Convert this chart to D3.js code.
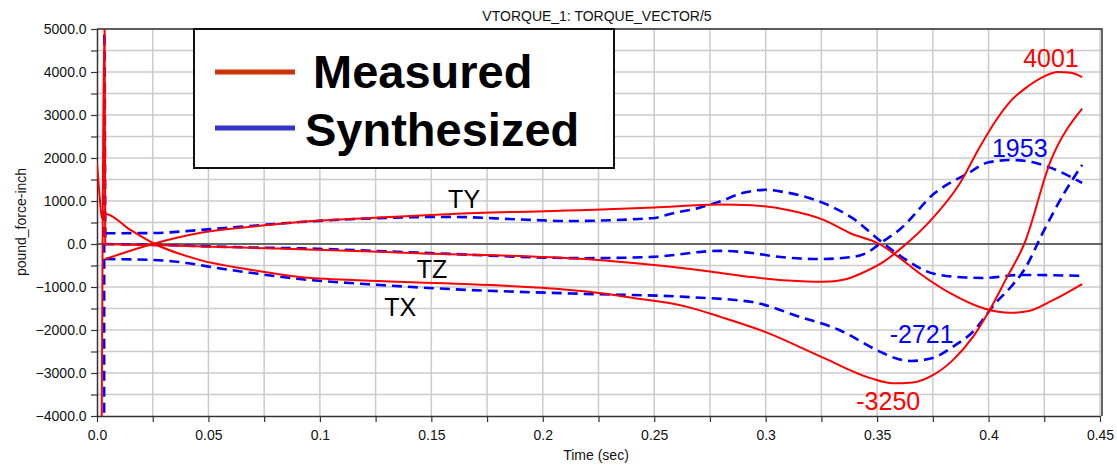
<!DOCTYPE html>
<html>
<head>
<meta charset="utf-8">
<script src="https://cdn.jsdelivr.net/npm/d3@7"></script>
<style>
  body { margin: 0; background: #fff; }
  svg text { font-family: Arial, "Liberation Sans", sans-serif; }
</style>
</head>
<body>
<svg id="chart" width="1117" height="465"></svg>
<script>
// ---- data: [time (s), torque (lbf-in)] ----
const measTX = [[0, 1880], [0.0012, 1100], [0.0022, 600], [0.0037, 700], [0.015, 330], [0.026, 0], [0.046, -370],
  [0.069, -600], [0.091, -770], [0.12, -850], [0.159, -920], [0.2, -1020], [0.219, -1100], [0.24, -1250],
  [0.264, -1450], [0.28, -1700], [0.3, -2050], [0.326, -2650], [0.347, -3120], [0.357, -3240], [0.366, -3220],
  [0.375, -3050], [0.384, -2700], [0.393, -2160], [0.4, -1580], [0.408, -800], [0.416, 0], [0.428, 1950], [0.442, 3150]];
const measTY = [[0.0037, -350], [0.025, 0], [0.046, 255], [0.069, 400], [0.091, 510], [0.12, 600], [0.159, 700],
  [0.219, 790], [0.25, 850], [0.279, 920], [0.294, 900], [0.31, 790], [0.326, 560], [0.338, 250], [0.351, 0],
  [0.358, -240], [0.369, -680], [0.383, -1150], [0.398, -1500], [0.41, -1600], [0.418, -1560], [0.428, -1330], [0.442, -930]];
const measTZ = [[0.0021, -4300], [0.0034, 5200], [0.0037, 0], [0.03, -30], [0.069, -90], [0.091, -120], [0.144, -215],
  [0.219, -350], [0.25, -490], [0.275, -640], [0.294, -770], [0.31, -850], [0.326, -880], [0.336, -820], [0.343, -680],
  [0.353, -410], [0.361, -90], [0.373, 490], [0.387, 1400], [0.396, 2250], [0.403, 2850], [0.41, 3330], [0.418, 3680],
  [0.425, 3900], [0.431, 4001], [0.437, 3980], [0.442, 3880]];

const synTX = [[0.0038, -350], [0.025, -370], [0.04, -440], [0.054, -560], [0.069, -670], [0.091, -815], [0.12, -930],
  [0.159, -1050], [0.219, -1160], [0.264, -1230], [0.294, -1350], [0.315, -1690], [0.333, -2000], [0.35, -2470],
  [0.358, -2650], [0.365, -2721], [0.375, -2650], [0.384, -2390], [0.393, -2040], [0.403, -1380], [0.41, -1000],
  [0.416, -600], [0.425, 330], [0.434, 1190], [0.442, 1840]];
const synTY = [[0.0038, 250], [0.025, 255], [0.046, 325], [0.069, 420], [0.091, 510], [0.159, 630], [0.19, 570],
  [0.211, 535], [0.249, 600], [0.259, 720], [0.27, 840], [0.279, 980], [0.29, 1190], [0.3, 1260], [0.308, 1210],
  [0.326, 950], [0.339, 600], [0.351, 90], [0.361, -300], [0.376, -700], [0.39, -780], [0.398, -790], [0.414, -720], [0.442, -740]];
const synTZ = [[0.0032, -4300], [0.0033, 5300], [0.0038, 0], [0.025, -20], [0.069, -80], [0.091, -100], [0.144, -200],
  [0.219, -330], [0.249, -300], [0.279, -160], [0.294, -210], [0.303, -280], [0.324, -350], [0.339, -300], [0.346, -190],
  [0.351, 0], [0.36, 330], [0.376, 1190], [0.391, 1650], [0.4, 1900], [0.41, 1953], [0.42, 1900], [0.428, 1770], [0.442, 1420]];

const xMajor = [0, 0.05, 0.1, 0.15, 0.2, 0.25, 0.3, 0.35, 0.4, 0.45];
const xLabels = ['0.0', '0.05', '0.1', '0.15', '0.2', '0.25', '0.3', '0.35', '0.4', '0.45'];
const xMinor = d3.range(0, 0.4501, 0.025);
const yMajor = [-4000, -3000, -2000, -1000, 0, 1000, 2000, 3000, 4000, 5000];
const yMinor = d3.range(-4000, 5001, 500);

const legendNames = ['Measured', 'Synthesized'];
const notes = [
  { t: 0.428, v: 4116, text: '4001', color: '#ff0000' },
  { t: 0.414, v: 2023, text: '1953', color: '#0000ff' },
  { t: 0.370, v: -2302, text: '-2721', color: '#0000ff' },
  { t: 0.355, v: -3860, text: '-3250', color: '#ff0000' },
  { t: 0.1647, v: 837, text: 'TY', color: '#000' },
  { t: 0.1503, v: -791, text: 'TZ', color: '#000' },
  { t: 0.136, v: -1674, text: 'TX', color: '#000' }
];

// ---- layout ----
const plotL = 97, plotR = 1100, plotT = 29, plotB = 416;
const svg = d3.select('#chart');

const x = d3.scaleLinear().domain([0, 0.45]).range([plotL, plotR]);
const y = d3.scaleLinear().domain([-4000, 5000]).range([plotB, plotT]);

svg.append('rect').attr('x', plotL).attr('y', plotT)
  .attr('width', plotR + 2 - plotL).attr('height', plotB - plotT).attr('fill', '#fff');

// grid
const grid = svg.append('g').attr('stroke', '#cbcbcb').attr('stroke-width', 1.5);
grid.selectAll('.vg').data(xMinor.slice(1)).enter().append('line')
  .attr('x1', d => x(d)).attr('x2', d => x(d)).attr('y1', plotT).attr('y2', plotB);
grid.selectAll('.hg').data(yMinor.slice(1)).enter().append('line')
  .attr('x1', plotL).attr('x2', plotR + 2).attr('y1', d => y(d)).attr('y2', d => y(d));

// zero line
svg.append('line').attr('x1', plotL).attr('x2', plotR + 2).attr('y1', y(0)).attr('y2', y(0))
  .attr('stroke', '#444').attr('stroke-width', 1.5);

// frame (top / right)
svg.append('path').attr('d', `M${plotL},${plotT}H${plotR + 2}V${plotB}`)
  .attr('fill', 'none').attr('stroke', '#333').attr('stroke-width', 1.5);

// axes
const xAxis = d3.axisBottom(x).tickValues(xMinor).tickSize(6).tickSizeOuter(0)
  .tickFormat(d => { const i = xMajor.findIndex(m => Math.abs(m - d) < 1e-6); return i >= 0 ? xLabels[i] : ''; });
const gx = svg.append('g').attr('transform', `translate(0,${plotB})`).call(xAxis);
const yAxis = d3.axisLeft(y).tickValues(yMinor).tickSize(6).tickSizeOuter(0)
  .tickFormat(d => yMajor.includes(d) ? d3.format('.1f')(d) : '');
const gy = svg.append('g').attr('transform', `translate(${plotL},0)`).call(yAxis);
[gx, gy].forEach(g => {
  g.select('.domain').attr('stroke', '#333').attr('stroke-width', 1.5);
  g.selectAll('.tick line').attr('stroke', '#333').attr('stroke-width', 1.2);
  g.selectAll('.tick text').attr('font-size', 14).attr('fill', '#111');
});
gx.selectAll('.tick text').attr('dy', '1.05em');
gy.selectAll('.tick text').attr('dx', '-0.1em');

// titles
svg.append('text').attr('x', 597).attr('y', 21).attr('text-anchor', 'middle')
  .attr('font-size', 14).attr('fill', '#111').text('VTORQUE_1: TORQUE_VECTOR/5');
svg.append('text').attr('x', 596).attr('y', 460).attr('text-anchor', 'middle')
  .attr('font-size', 14).attr('fill', '#111').text('Time (sec)');
svg.append('text').attr('transform', 'translate(26,222) rotate(-90)').attr('text-anchor', 'middle')
  .attr('font-size', 14).attr('fill', '#111').text('pound_force-inch');

// curves
svg.append('clipPath').attr('id', 'clip').append('rect')
  .attr('x', plotL).attr('y', plotT).attr('width', plotR + 2 - plotL).attr('height', plotB - plotT);
const path = d3.line().x(d => x(d[0])).y(d => y(d[1])).curve(d3.curveMonotoneX);
const plot = svg.append('g').attr('clip-path', 'url(#clip)');
[synTX, synTY, synTZ].forEach(s => {
  plot.append('path').datum(s).attr('d', path).attr('fill', 'none')
    .attr('stroke', '#0000ff').attr('stroke-width', 2.6).attr('stroke-dasharray', '10,6');
});
[measTX, measTY, measTZ].forEach(s => {
  plot.append('path').datum(s).attr('d', path).attr('fill', 'none')
    .attr('stroke', '#ff0000').attr('stroke-width', 2);
});

// annotations
svg.selectAll('.note').data(notes).enter().append('text')
  .attr('x', d => x(d.t)).attr('y', d => y(d.v)).attr('text-anchor', 'middle')
  .attr('font-size', 25).attr('fill', d => d.color).text(d => d.text);

// legend
const lg = svg.append('g');
lg.append('rect').attr('x', 194).attr('y', 29).attr('width', 420).attr('height', 139)
  .attr('fill', '#fff').attr('stroke', '#111').attr('stroke-width', 2);
const legendColors = ['#cc3300', '#3333cc'];
legendNames.forEach((name, i) => {
  const ly = [72, 128][i];
  lg.append('line').attr('x1', 215).attr('x2', 295).attr('y1', ly).attr('y2', ly)
    .attr('stroke', legendColors[i]).attr('stroke-width', 5);
  lg.append('text').attr('x', [313, 305][i]).attr('y', [88, 146][i])
    .attr('font-size', 47).attr('font-weight', 'bold').attr('fill', '#000').text(name);
});
</script>
</body>
</html>
